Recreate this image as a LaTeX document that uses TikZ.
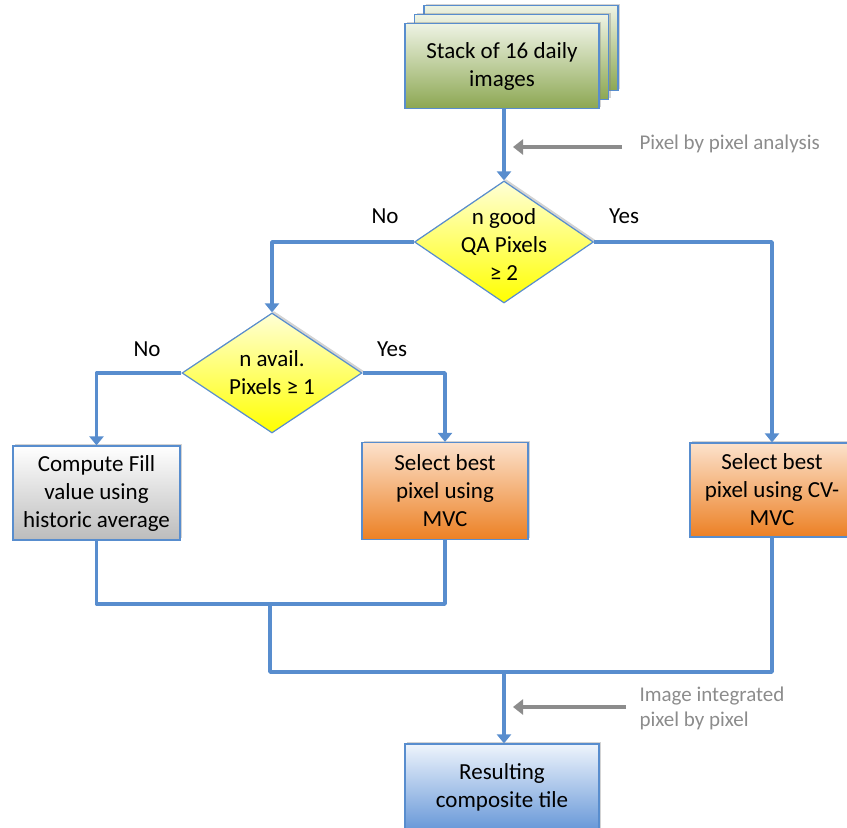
\documentclass[tikz,border=0pt]{standalone}
\usepackage{fontspec}
\setmainfont{Carlito}
\usetikzlibrary{shapes.geometric,arrows.meta,shadows}

\definecolor{flowline}{RGB}{88,141,206}
\definecolor{noteline}{RGB}{140,140,140}
\definecolor{greentop}{RGB}{238,243,228}
\definecolor{greenbot}{RGB}{140,167,82}
\definecolor{yellowtop}{RGB}{255,255,214}
\definecolor{yellowbot}{RGB}{255,255,0}
\definecolor{graybot}{RGB}{188,188,188}
\definecolor{orangetop}{RGB}{252,226,204}
\definecolor{orangebot}{RGB}{236,128,36}
\definecolor{bluetop}{RGB}{238,244,252}
\definecolor{bluebot}{RGB}{104,152,216}

\newcommand\boxfont{\fontsize{23}{28}\selectfont}
\newcommand\notefont{\fontsize{21}{25}\selectfont}

\tikzset{
  stepbox/.style={rectangle, draw=flowline, line width=1.2pt, align=center,
    font=\boxfont, inner sep=0pt,
    drop shadow={opacity=.35, shadow xshift=2pt, shadow yshift=2pt}},
  decision/.style={diamond, draw=flowline, line width=1.2pt, inner sep=0pt,
    top color=yellowtop, bottom color=yellowbot,
    drop shadow={opacity=.35, shadow xshift=2pt, shadow yshift=2pt}},
  dtext/.style={align=center, font=\boxfont, inner sep=0pt},
  flow/.style={draw=flowline, line width=3.5pt, line join=round,
    -{Triangle[length=9pt,width=14pt]}},
  joinline/.style={draw=flowline, line width=3.5pt, line join=round},
  note/.style={draw=noteline, line width=3.5pt,
    -{Triangle[length=10pt,width=15pt]}},
  notetext/.style={text=noteline, font=\notefont, align=left, anchor=west},
  answer/.style={font=\boxfont}
}

\begin{document}
\begin{tikzpicture}[x=1pt,y=-1pt]
  \useasboundingbox (0,0) rectangle (847,828);
  %%%%%%%%%%%%%%%%% vertices %%%%%%%%%%%%%%%%%%%
  % stack of images, back sheets first
  \foreach \n in {2,1}
  {\node[stepbox, top color=greentop, bottom color=greenbot,
     minimum width=194pt, minimum height=85pt]
     (stack\n) at ({502+9.5*\n},{66-9*\n}) {};}
  \node[stepbox, top color=greentop, bottom color=greenbot,
    minimum width=194pt, minimum height=85pt]
    (stack) at (502,66) {Stack of 16 daily\\images};

  \node[decision, minimum width=179pt, minimum height=122pt,
    label={[dtext,yshift=-3pt]center:{n good\\QA Pixels\\≥ 2}}] (qa) at (504,242) {};
  \node[decision, minimum width=180pt, minimum height=120pt,
    label={[dtext]center:{n avail.\\Pixels ≥ 1}}] (avail) at (272,373) {};

  \node[stepbox, top color=white, bottom color=graybot,
    minimum width=167pt, minimum height=94pt]
    (fill) at (96.5,493) {Compute Fill\\value using\\historic average};
  \node[stepbox, top color=orangetop, bottom color=orangebot,
    minimum width=166pt, minimum height=97pt]
    (mvc) at (445,491) {Select best\\pixel using\\MVC};
  \node[stepbox, top color=orangetop, bottom color=orangebot,
    minimum width=164pt, minimum height=94pt]
    (cvmvc) at (772,490) {Select best\\pixel using CV-\\MVC};
  \node[stepbox, top color=bluetop, bottom color=bluebot,
    minimum width=194pt, minimum height=86pt]
    (result) at (502,787) {Resulting\\composite tile};

  % yes / no labels
  \node[answer] (qano)   at (385,216) {No};
  \node[answer] (qayes)  at (624,216) {Yes};
  \node[answer] (avno)   at (147,349) {No};
  \node[answer] (avyes)  at (392,349) {Yes};

  % joins and notes
  \coordinate (m1) at (270,604);
  \coordinate (m2) at (504,672);
  \coordinate (pa1) at (622,147);
  \coordinate (pa2) at (513,147);
  \coordinate (ia1) at (626,707);
  \coordinate (ia2) at (513,707);
  \node[notetext] (pixnote) at (636,144) {Pixel by pixel analysis};
  \node[notetext] (imgnote) at (636,708) {Image integrated\\pixel by pixel};

  %%%%%%%%%%%%%%%%% edges %%%%%%%%%%%%%%%%%%%%%%%
  \draw[flow] (stack.south -| qa.north) -- (qa.north);
  \draw[flow] (qa.west) -| (avail.north);
  \draw[flow] (qa.east) -| (cvmvc.north);
  \draw[flow] (avail.west) -| (fill.north);
  \draw[flow] (avail.east) -| (mvc.north);

  \draw[joinline] (fill.south) |- (m1) -| (mvc.south);
  \draw[joinline] (m1) |- (m2) -| (cvmvc.south);
  \draw[flow] (m2) -- (result.north -| m2);

  \draw[note] (pa1) -- (pa2);
  \draw[note] (ia1) -- (ia2);
\end{tikzpicture}
\end{document}
